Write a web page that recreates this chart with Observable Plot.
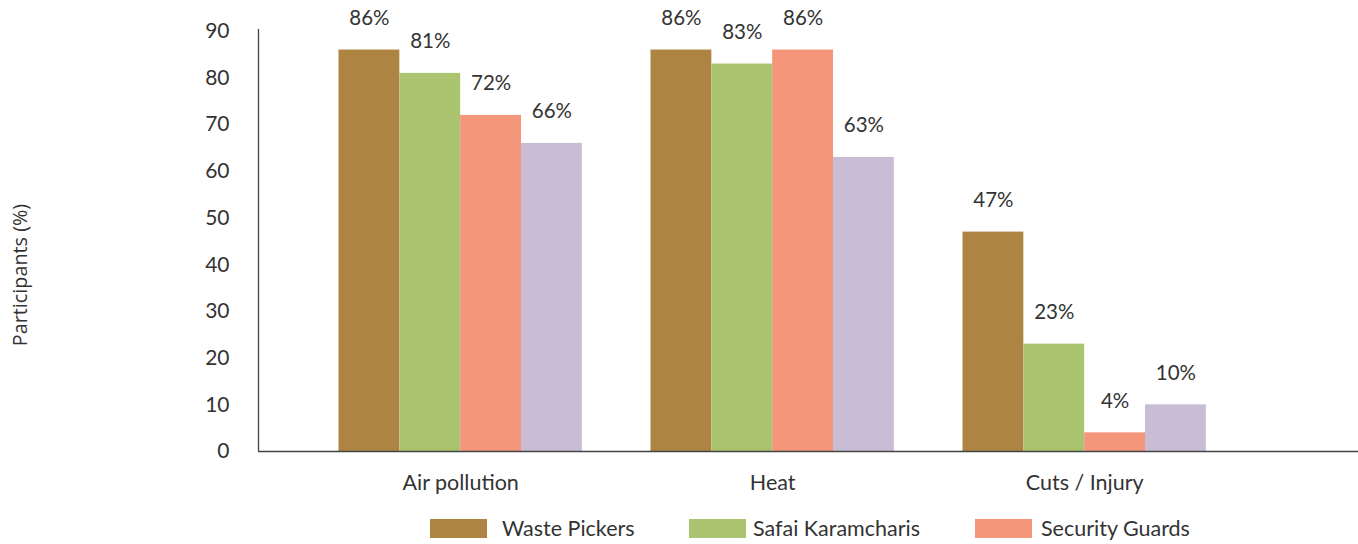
<!DOCTYPE html>
<html>
<head>
<meta charset="utf-8">
<script src="https://cdn.jsdelivr.net/npm/d3@7"></script>
<script src="https://cdn.jsdelivr.net/npm/@observablehq/plot@0.6"></script>
<style>
  body { margin: 0; background: #fff; font-family: Lato, sans-serif; }
  #wrap { position: relative; width: 1358px; }
  #ylabel { position: absolute; left: 20px; top: 275px; transform: translate(-50%, -50%) rotate(-90deg); font-family: 'Open Sans', sans-serif; font-size: 19.8px; color: #333; white-space: nowrap; line-height: 22px; }
  #legend { position: relative; width: 1358px; height: 39px; }
  .sw { position: absolute; top: 14px; width: 57px; height: 19px; }
  .lb { position: absolute; top: 10px; font-size: 21.5px; color: #333; line-height: 26px; white-space: nowrap; }
</style>
</head>
<body>
<div id="wrap">
  <div id="chart"></div>
  <div id="ylabel">Participants (%)</div>
  <div id="legend"></div>
</div>
<script>
const categories = ["Air pollution", "Heat", "Cuts / Injury"];
const seriesNames = ["Waste Pickers", "Safai Karamcharis", "Security Guards", "Others"];
const wastePickers = [86, 86, 47];
const safaiKaramcharis = [81, 83, 23];
const securityGuards = [72, 86, 4];
const others = [66, 63, 10];
const seriesColors = ["#AD8442", "#AAC46F", "#F4967A", "#C9BDD5"];
const legendSeries = ["Waste Pickers", "Safai Karamcharis", "Security Guards"];
const yTicks = [0, 10, 20, 30, 40, 50, 60, 70, 80, 90];

const GROUP_START = 0.258, BAR_W = 0.195;
const rows = [];
[wastePickers, safaiKaramcharis, securityGuards, others].forEach((vals, j) => {
  vals.forEach((v, i) => {
    const x1 = i + GROUP_START + j * BAR_W;
    rows.push({category: categories[i], series: seriesNames[j], value: v, x1, x2: x1 + BAR_W, xm: x1 + BAR_W / 2});
  });
});
const centers = categories.map((c, i) => ({category: c, x: i + GROUP_START + 2 * BAR_W}));

const chart = Plot.plot({
  width: 1358,
  height: 505,
  marginLeft: 258,
  marginRight: 0,
  marginTop: 29,
  marginBottom: 54,
  style: {fontFamily: "Lato, sans-serif", fontSize: "21px", color: "#333", background: "#fff", overflow: "visible"},
  x: {domain: [0, 1100 / 312], axis: null},
  y: {domain: [0, 90.4], axis: null},
  color: {domain: seriesNames, range: seriesColors},
  marks: [
    Plot.rectY(rows, {x1: "x1", x2: "x2", y: "value", fill: "series"}),
    Plot.text(rows, {x: "xm", y: "value", text: d => d.value + "%", dy: -31.5, fill: "#333", fontSize: 20.5}),
    Plot.axisY({ticks: yTicks, tickSize: 0, tickPadding: 29, tickFormat: d => d, label: null, fontSize: 21}),
    Plot.ruleX([0], {y1: 0, y2: 90.4, stroke: "#444", strokeWidth: 1.3}),
    Plot.ruleY([0], {stroke: "#444", strokeWidth: 1.6}),
    Plot.text(centers, {x: "x", y: () => 0, text: "category", dy: 32, fill: "#333", fontSize: 21.5})
  ]
});
document.getElementById("chart").appendChild(chart);

const legendPos = [{sw: 430, lb: 502}, {sw: 689, lb: 753}, {sw: 975, lb: 1041}];
const legend = document.getElementById("legend");
legendSeries.forEach((name, k) => {
  const sw = document.createElement("div");
  sw.className = "sw";
  sw.style.left = legendPos[k].sw + "px";
  sw.style.background = seriesColors[seriesNames.indexOf(name)];
  legend.appendChild(sw);
  const lb = document.createElement("div");
  lb.className = "lb";
  lb.style.left = legendPos[k].lb + "px";
  lb.textContent = name;
  legend.appendChild(lb);
});
</script>
</body>
</html>
